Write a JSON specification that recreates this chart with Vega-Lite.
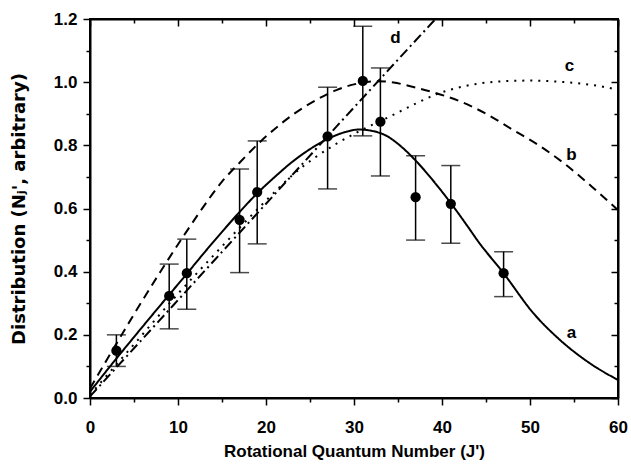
{
  "$schema": "https://vega.github.io/schema/vega-lite/v6.json",
  "width": 528,
  "height": 379,
  "autosize": {"type": "none"},
  "padding": {"left": 90, "top": 19, "right": 13, "bottom": 67},
  "background": "white",
  "config": {
    "view": {"stroke": "black", "strokeWidth": 2},
    "font": "Liberation Sans",
    "axis": {"grid": false, "domainColor": "black", "domainWidth": 2, "tickColor": "black", "tickWidth": 1.5, "labelColor": "black", "titleColor": "black", "labelFont": "Liberation Sans", "labelFontWeight": "bold", "labelFontSize": 17, "titleFont": "Liberation Sans", "titleFontWeight": "bold", "titleFontSize": 17}
  },
  "datasets": {
    "points": [
      {"J": 3, "N": 0.15, "lo": 0.10, "hi": 0.20},
      {"J": 9, "N": 0.323, "lo": 0.219, "hi": 0.424},
      {"J": 11, "N": 0.395, "lo": 0.281, "hi": 0.503},
      {"J": 17, "N": 0.564, "lo": 0.397, "hi": 0.725},
      {"J": 19, "N": 0.652, "lo": 0.488, "hi": 0.814},
      {"J": 27, "N": 0.828, "lo": 0.662, "hi": 0.984},
      {"J": 31, "N": 1.004, "lo": 0.830, "hi": 1.177},
      {"J": 33, "N": 0.875, "lo": 0.703, "hi": 1.045},
      {"J": 37, "N": 0.636, "lo": 0.50, "hi": 0.767},
      {"J": 41, "N": 0.615, "lo": 0.49, "hi": 0.736},
      {"J": 47, "N": 0.395, "lo": 0.321, "hi": 0.463}
    ],
    "curves": [
      {"curve": "a", "J": 0, "N": 0.02}, {"curve": "a", "J": 3, "N": 0.125}, {"curve": "a", "J": 5, "N": 0.193}, {"curve": "a", "J": 9, "N": 0.327}, {"curve": "a", "J": 11, "N": 0.393}, {"curve": "a", "J": 12.5, "N": 0.444}, {"curve": "a", "J": 15, "N": 0.526}, {"curve": "a", "J": 17, "N": 0.589}, {"curve": "a", "J": 19, "N": 0.648}, {"curve": "a", "J": 21, "N": 0.70}, {"curve": "a", "J": 23, "N": 0.748}, {"curve": "a", "J": 25, "N": 0.788}, {"curve": "a", "J": 27, "N": 0.82}, {"curve": "a", "J": 29, "N": 0.842}, {"curve": "a", "J": 30.5, "N": 0.850}, {"curve": "a", "J": 32, "N": 0.846}, {"curve": "a", "J": 33.7, "N": 0.830}, {"curve": "a", "J": 35.2, "N": 0.80}, {"curve": "a", "J": 37, "N": 0.752}, {"curve": "a", "J": 39, "N": 0.688}, {"curve": "a", "J": 41, "N": 0.617}, {"curve": "a", "J": 43, "N": 0.54}, {"curve": "a", "J": 44, "N": 0.50}, {"curve": "a", "J": 47, "N": 0.395}, {"curve": "a", "J": 50.4, "N": 0.268}, {"curve": "a", "J": 53.4, "N": 0.184}, {"curve": "a", "J": 56.8, "N": 0.11}, {"curve": "a", "J": 60, "N": 0.057},
      {"curve": "b", "J": 0, "N": 0.03}, {"curve": "b", "J": 2, "N": 0.125}, {"curve": "b", "J": 5, "N": 0.265}, {"curve": "b", "J": 8, "N": 0.40}, {"curve": "b", "J": 10.8, "N": 0.52}, {"curve": "b", "J": 12.5, "N": 0.59}, {"curve": "b", "J": 15, "N": 0.685}, {"curve": "b", "J": 17, "N": 0.745}, {"curve": "b", "J": 19.3, "N": 0.81}, {"curve": "b", "J": 21.6, "N": 0.866}, {"curve": "b", "J": 23.1, "N": 0.898}, {"curve": "b", "J": 25.8, "N": 0.945}, {"curve": "b", "J": 28, "N": 0.975}, {"curve": "b", "J": 30, "N": 0.993}, {"curve": "b", "J": 32.5, "N": 1.003}, {"curve": "b", "J": 34.5, "N": 0.999}, {"curve": "b", "J": 36.4, "N": 0.987}, {"curve": "b", "J": 39, "N": 0.968}, {"curve": "b", "J": 42, "N": 0.94}, {"curve": "b", "J": 45, "N": 0.90}, {"curve": "b", "J": 48, "N": 0.85}, {"curve": "b", "J": 51, "N": 0.80}, {"curve": "b", "J": 54, "N": 0.74}, {"curve": "b", "J": 57, "N": 0.67}, {"curve": "b", "J": 60, "N": 0.595},
      {"curve": "c", "J": 0, "N": 0.01}, {"curve": "c", "J": 5, "N": 0.17}, {"curve": "c", "J": 10, "N": 0.33}, {"curve": "c", "J": 15, "N": 0.48}, {"curve": "c", "J": 17.2, "N": 0.545}, {"curve": "c", "J": 20, "N": 0.625}, {"curve": "c", "J": 23.1, "N": 0.708}, {"curve": "c", "J": 25.5, "N": 0.76}, {"curve": "c", "J": 28, "N": 0.805}, {"curve": "c", "J": 30.7, "N": 0.846}, {"curve": "c", "J": 34.5, "N": 0.897}, {"curve": "c", "J": 37, "N": 0.932}, {"curve": "c", "J": 39.4, "N": 0.962}, {"curve": "c", "J": 42, "N": 0.984}, {"curve": "c", "J": 44.3, "N": 0.996}, {"curve": "c", "J": 47, "N": 1.003}, {"curve": "c", "J": 50, "N": 1.005}, {"curve": "c", "J": 53, "N": 1.002}, {"curve": "c", "J": 55.7, "N": 0.996}, {"curve": "c", "J": 58, "N": 0.987}, {"curve": "c", "J": 60, "N": 0.976},
      {"curve": "d", "J": 0, "N": 0.005}, {"curve": "d", "J": 10, "N": 0.31}, {"curve": "d", "J": 20, "N": 0.615}, {"curve": "d", "J": 30, "N": 0.92}, {"curve": "d", "J": 39.26, "N": 1.2}
    ],
    "labels": [
      {"text": "a", "J": 54.7, "N": 0.205},
      {"text": "b", "J": 54.7, "N": 0.77},
      {"text": "c", "J": 54.5, "N": 1.05},
      {"text": "d", "J": 34.7, "N": 1.14}
    ]
  },
  "resolve": {"axis": {"x": "independent", "y": "independent"}},
  "layer": [
    {
      "data": {"name": "curves"},
      "mark": {"type": "line", "color": "black", "strokeWidth": 2, "interpolate": "monotone", "clip": true},
      "encoding": {
        "x": {"field": "J", "type": "quantitative", "scale": {"domain": [0, 60], "nice": false, "zero": false},
          "axis": {"orient": "bottom", "values": [0,5,10,15,20,25,30,35,40,45,50,55,60], "labelExpr": "datum.value % 10 === 0 ? datum.label : ''",
            "tickSize": {"condition": {"test": "datum.value % 10 === 0", "value": 7}, "value": 4},
            "labelPadding": 14, "labelFlush": false, "labelOverlap": false, "title": "Rotational Quantum Number (J')", "titlePadding": 8}},
        "y": {"field": "N", "type": "quantitative", "scale": {"domain": [0, 1.2], "nice": false},
          "axis": {"orient": "left", "values": [0,0.1,0.2,0.3,0.4,0.5,0.6,0.7,0.8,0.9,1.0,1.1,1.2], "format": ".1f",
            "labelExpr": "round(datum.value*10) % 2 === 0 ? datum.label : ''",
            "tickSize": {"condition": {"test": "round(datum.value*10) % 2 === 0", "value": 7}, "value": 4},
            "labelPadding": 6, "labelFlush": false, "labelOverlap": false,
            "title": "Distribution (Nⱼ', arbitrary)", "titleFont": "DejaVu Sans", "titleFontSize": 18, "titlePadding": 25}},
        "detail": {"field": "curve"},
        "strokeDash": {"field": "curve", "type": "nominal", "scale": {"domain": ["a","b","c","d"], "range": [[1,0],[9,6],[2,6],[10,4,2,4]]}, "legend": null}
      }
    },
    {
      "data": {"name": "points"},
      "mark": {"type": "rule", "color": "black", "strokeWidth": 1.5},
      "encoding": {
        "x": {"field": "J", "type": "quantitative",
          "axis": {"orient": "top", "values": [0,5,10,15,20,25,30,35,40,45,50,55,60], "labels": false, "title": null,
            "tickSize": {"condition": {"test": "datum.value % 10 === 0", "value": -7}, "value": -4}}},
        "y": {"field": "lo", "type": "quantitative",
          "axis": {"orient": "right", "values": [0,0.1,0.2,0.3,0.4,0.5,0.6,0.7,0.8,0.9,1.0,1.1,1.2], "labels": false, "title": null,
            "tickSize": {"condition": {"test": "round(datum.value*10) % 2 === 0", "value": -7}, "value": -4}}},
        "y2": {"field": "hi"}
      }
    },
    {
      "data": {"name": "points"},
      "mark": {"type": "tick", "orient": "horizontal", "color": "black", "size": 19, "thickness": 1.5},
      "encoding": {
        "x": {"field": "J", "type": "quantitative", "axis": null},
        "y": {"field": "lo", "type": "quantitative", "axis": null}
      }
    },
    {
      "data": {"name": "points"},
      "mark": {"type": "tick", "orient": "horizontal", "color": "black", "size": 19, "thickness": 1.5},
      "encoding": {
        "x": {"field": "J", "type": "quantitative", "axis": null},
        "y": {"field": "hi", "type": "quantitative", "axis": null}
      }
    },
    {
      "data": {"name": "points"},
      "mark": {"type": "circle", "color": "black", "opacity": 1, "size": 105},
      "encoding": {
        "x": {"field": "J", "type": "quantitative", "axis": null},
        "y": {"field": "N", "type": "quantitative", "axis": null}
      }
    },
    {
      "data": {"name": "labels"},
      "mark": {"type": "text", "font": "Liberation Sans", "fontWeight": "bold", "fontSize": 17, "color": "black", "align": "center", "baseline": "middle"},
      "encoding": {
        "x": {"field": "J", "type": "quantitative", "axis": null},
        "y": {"field": "N", "type": "quantitative", "axis": null},
        "text": {"field": "text"}
      }
    }
  ]
}
